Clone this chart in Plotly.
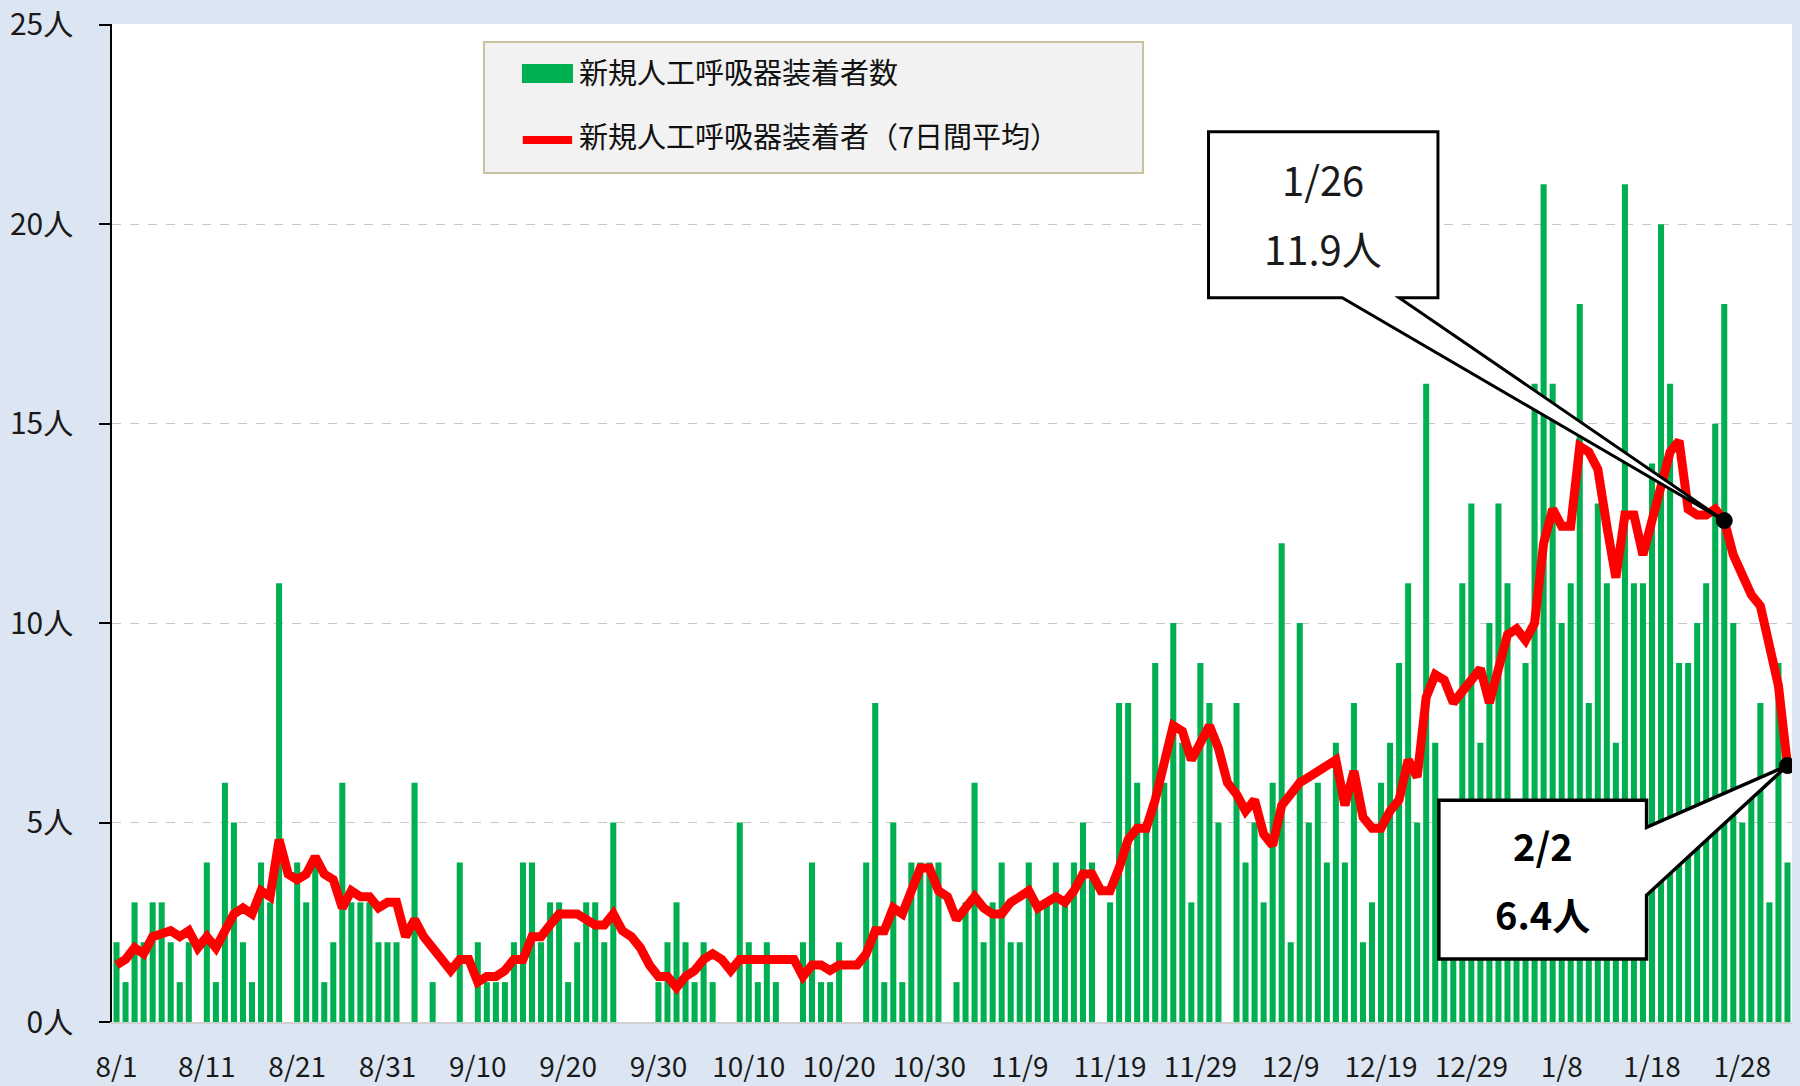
import plotly.graph_objects as go
import pandas as pd

# ---- data ----
start_date = "2021-08-01"
end_date = "2022-02-02"
tick_labels = ["8/1", "8/11", "8/21", "8/31", "9/10", "9/20", "9/30", "10/10", "10/20",
               "10/30", "11/9", "11/19", "11/29", "12/9", "12/19", "12/29", "1/8", "1/18", "1/28"]
y_tick_vals = [0, 5, 10, 15, 20, 25]
y_tick_text = ["0人", "5人", "10人", "15人", "20人", "25人"]

daily_aug = [2, 1, 3, 2, 3, 3, 2, 1, 2, 0, 4, 1, 6, 5, 2, 1, 4, 3, 11, 0, 4, 3, 4, 1, 2, 6, 3, 3, 3, 2, 2]
daily_sep = [2, 0, 6, 0, 1, 0, 0, 4, 0, 2, 1, 1, 1, 2, 4, 4, 2, 3, 3, 1, 2, 3, 3, 2, 5, 0, 0, 0, 0, 1]
daily_oct = [2, 3, 2, 1, 2, 1, 0, 0, 5, 2, 1, 2, 1, 0, 0, 2, 4, 1, 1, 2, 0, 0, 4, 8, 1, 5, 1, 4, 4, 4, 4]
daily_nov = [0, 1, 3, 6, 2, 3, 4, 2, 2, 4, 3, 3, 4, 3, 4, 5, 4, 0, 3, 8, 8, 6, 5, 9, 6, 10, 7, 3, 9, 8]
daily_dec = [5, 0, 8, 4, 5, 3, 6, 12, 2, 10, 5, 6, 4, 7, 4, 8, 2, 3, 6, 7, 9, 11, 5, 16, 7, 5, 3, 11, 13, 7, 10]
daily_jan = [13, 11, 4, 9, 16, 21, 16, 10, 11, 18, 8, 13, 11, 7, 21, 11, 11, 14, 20, 16, 9, 9, 10, 11, 15, 18, 10, 5, 6, 8, 3]
daily_feb = [9, 4]

avg_aug = [1.43, 1.57, 1.86, 1.71, 2.14, 2.21, 2.29, 2.14, 2.29, 1.86, 2.14, 1.86, 2.29, 2.71, 2.86, 2.71,
           3.29, 3.14, 4.57, 3.71, 3.57, 3.71, 4.14, 3.71, 3.57, 2.86, 3.29, 3.14, 3.14, 2.86, 3.00]
avg_sep = [3.00, 2.14, 2.57, 2.14, 1.86, 1.57, 1.29, 1.57, 1.57, 1.00, 1.14, 1.14, 1.29, 1.57, 1.57,
           2.14, 2.14, 2.43, 2.71, 2.71, 2.71, 2.57, 2.43, 2.43, 2.71, 2.29, 2.14, 1.86, 1.43, 1.14]
avg_oct = [1.14, 0.86, 1.14, 1.29, 1.57, 1.71, 1.57, 1.29, 1.57, 1.57, 1.57, 1.57, 1.57, 1.57, 1.57, 1.14,
           1.43, 1.43, 1.29, 1.43, 1.43, 1.43, 1.71, 2.29, 2.29, 2.86, 2.71, 3.29, 3.86, 3.86, 3.29]
avg_nov = [3.14, 2.57, 2.86, 3.14, 2.86, 2.71, 2.71, 3.00, 3.14, 3.29, 2.86, 3.00, 3.14, 3.00, 3.29,
           3.71, 3.71, 3.29, 3.29, 3.86, 4.57, 4.86, 4.86, 5.57, 6.43, 7.43, 7.29, 6.57, 7.00, 7.43]
avg_dec = [6.86, 6.00, 5.71, 5.29, 5.57, 4.71, 4.43, 5.43, 5.71, 6.00, 6.14, 6.29, 6.43, 6.57, 5.43, 6.29,
           5.14, 4.86, 4.86, 5.29, 5.57, 6.57, 6.14, 8.14, 8.71, 8.57, 8.00, 8.29, 8.57, 8.86, 8.00]
avg_jan = [8.86, 9.71, 9.86, 9.57, 10.00, 12.00, 12.86, 12.43, 12.43, 14.43, 14.29, 13.86, 12.43, 11.14,
           12.71, 12.71, 11.71, 12.57, 13.57, 14.29, 14.57, 12.86, 12.71, 12.71, 12.86, 12.57, 11.71,
           11.14, 10.71, 10.43, 9.29]
avg_feb = [8.43, 6.43]

daily = daily_aug + daily_sep + daily_oct + daily_nov + daily_dec + daily_jan + daily_feb
avg7 = avg_aug + avg_sep + avg_oct + avg_nov + avg_dec + avg_jan + avg_feb

dates = pd.date_range(start_date, end_date, freq="D")
date_labels = [f"{d.month}/{d.day}" for d in dates]
idx = list(range(len(dates)))
tick_idx = [date_labels.index(t) for t in tick_labels]

callout1_date, callout1_text = "1/26", ["1/26", "11.9人"]
callout2_date, callout2_text = "2/2", ["2/2", "6.4人"]

FONT = "Noto Sans CJK JP"
GREEN = "#00B050"
RED = "#FF0000"

fig = go.Figure()
fig.add_trace(go.Bar(x=idx, y=daily, marker=dict(color=GREEN, line=dict(width=0)),
                     name="新規人工呼吸器装着者数", showlegend=False))
fig.add_trace(go.Scatter(x=idx, y=avg7, mode="lines",
                         line=dict(color=RED, width=9),
                         name="新規人工呼吸器装着者（7日間平均）", showlegend=False))

i1 = date_labels.index(callout1_date)
i2 = date_labels.index(callout2_date)
v1 = avg7[i1]
v2 = avg7[i2]

shapes = []
# callout 1 (box with tail toward the 1/26 point)
p1 = (f"M 120.9,22.32 L 146.3,22.32 L 146.3,18.16 L 142.0,18.16 L {i1},{v1} "
      f"L 135.7,18.16 L 120.9,18.16 Z")
shapes.append(dict(type="path", path=p1, xref="x", yref="y", fillcolor="white",
                   line=dict(color="black", width=3), layer="above"))
# callout 2
p2 = (f"M 146.4,5.56 L 169.4,5.56 L 169.4,4.88 L {i2},{v2} L 169.4,3.18 "
      f"L 169.4,1.58 L 146.4,1.58 Z")
shapes.append(dict(type="path", path=p2, xref="x", yref="y", fillcolor="white",
                   line=dict(color="black", width=3.5), layer="above"))
# dots
for ii, vv in [(i1, v1), (i2, v2)]:
    shapes.append(dict(type="circle", xref="x", yref="y", xsizemode="pixel", ysizemode="pixel",
                       xanchor=ii, yanchor=vv, x0=-8, x1=8, y0=-8, y1=8,
                       fillcolor="black", line=dict(color="black", width=1), layer="above"))

# custom legend
shapes.append(dict(type="rect", xref="paper", yref="paper", x0=0.2214, x1=0.6137, y0=0.8507, y1=0.982,
                   fillcolor="#F2F2F2", line=dict(color="#C9C29E", width=2), layer="above"))
shapes.append(dict(type="rect", xref="paper", yref="paper", x0=0.244, x1=0.2744, y0=0.9409, y1=0.9599,
                   fillcolor=GREEN, line=dict(width=0), layer="above"))
shapes.append(dict(type="line", xref="paper", yref="paper", x0=0.2445, x1=0.2739, y0=0.8838, y1=0.8838,
                   line=dict(color=RED, width=8), layer="above"))

annotations = [
    dict(x=0.2768, y=0.953, xref="paper", yref="paper", text="新規人工呼吸器装着者数",
         showarrow=False, xanchor="left", yanchor="middle", font=dict(size=29, color="#111", family=FONT)),
    dict(x=0.2768, y=0.8888, xref="paper", yref="paper", text="新規人工呼吸器装着者（7日間平均）",
         showarrow=False, xanchor="left", yanchor="middle", font=dict(size=29, color="#111", family=FONT)),
    dict(x=133.6, y=21.14, xref="x", yref="y", text=callout1_text[0], showarrow=False,
         font=dict(size=40, color="#1a1a1a", family=FONT)),
    dict(x=133.6, y=19.41, xref="x", yref="y", text=callout1_text[1], showarrow=False,
         font=dict(size=40, color="#1a1a1a", family=FONT)),
    dict(x=157.9, y=4.46, xref="x", yref="y", text=f"<b>{callout2_text[0]}</b>", showarrow=False,
         font=dict(size=38, color="black", family=FONT)),
    dict(x=157.9, y=2.71, xref="x", yref="y", text=f"<b>{callout2_text[1]}</b>", showarrow=False,
         font=dict(size=38, color="black", family=FONT)),
]

fig.update_layout(
    width=1800, height=1086,
    template="none",
    paper_bgcolor="#DCE6F2",
    plot_bgcolor="white",
    margin=dict(l=112, r=8, t=24, b=64),
    bargap=0.33,
    showlegend=False,
    font=dict(family=FONT, color="#1a1a1a"),
    shapes=shapes,
    annotations=annotations,
    xaxis=dict(range=[-0.5, len(idx) - 0.5], tickmode="array", tickvals=tick_idx, ticktext=tick_labels,
               showgrid=False, zeroline=False, showline=True, linecolor="#D0D0D0", linewidth=2,
               ticks="", tickfont=dict(size=28, color="#1a1a1a", family=FONT), ticklabelstandoff=19),
    yaxis=dict(range=[0, 25.02], tickmode="array", tickvals=y_tick_vals, ticktext=y_tick_text,
               showgrid=True, gridcolor="#C8C8C8", griddash="dash", gridwidth=1,
               zeroline=False, showline=True, linecolor="black", linewidth=1.5,
               ticks="outside", ticklen=11, tickcolor="black", tickwidth=1.5,
               tickfont=dict(size=30, color="#1a1a1a", family=FONT), ticklabelstandoff=20),
)

fig.write_html("out.html", config={"displayModeBar": False},
               post_script="document.body.style.margin='0';document.body.style.padding='0';")
